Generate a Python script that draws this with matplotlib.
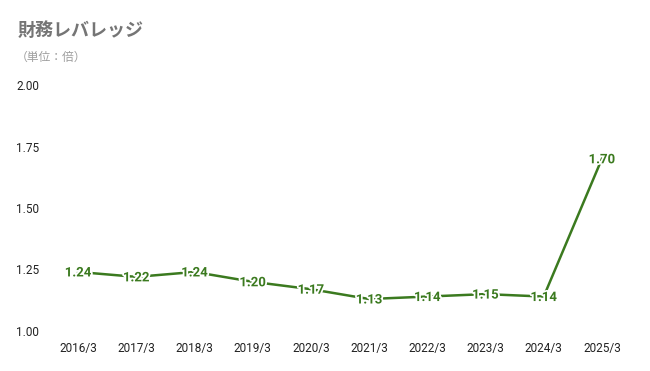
import matplotlib
matplotlib.use("Agg")
import matplotlib.pyplot as plt
import matplotlib.patheffects as pe

plt.rcParams['font.family'] = ['Noto Sans CJK JP', 'DejaVu Sans']

years = ['2016/3', '2017/3', '2018/3', '2019/3', '2020/3',
         '2021/3', '2022/3', '2023/3', '2024/3', '2025/3']
leverage = [1.24, 1.22, 1.24, 1.20, 1.17, 1.13, 1.14, 1.15, 1.14, 1.70]
yticks = [1.00, 1.25, 1.50, 1.75, 2.00]

green = '#3b7a1f'

fig = plt.figure(figsize=(6.5, 3.71), dpi=100)
ax = fig.add_axes([49 / 650, 1 - 331 / 371, 582 / 650, 246 / 371])

x = list(range(len(years)))
ax.plot(x, leverage, color=green, linewidth=1.8, zorder=2)

for xi, v in zip(x, leverage):
    ax.text(xi, v - 0.004, f'{v:.2f}', ha='center', va='center', color=green,
            fontsize=9.5, fontweight='bold', family=['Roboto', 'DejaVu Sans'],
            zorder=3,
            path_effects=[pe.withStroke(linewidth=2.5, foreground='white')])

ax.set_xlim(-0.5, len(years) - 0.5)
ax.set_ylim(1.0, 2.0)
ax.set_xticks(x)
ax.set_xticklabels(years, family=['Roboto', 'DejaVu Sans'])
ax.set_yticks(yticks)
ax.set_yticklabels([f'{t:.2f}' for t in yticks], family=['Roboto', 'DejaVu Sans'])
ax.tick_params(axis='both', length=0, labelsize=8.5, colors='#222222')
ax.tick_params(axis='x', pad=8)
ax.tick_params(axis='y', pad=7)
for s in ax.spines.values():
    s.set_visible(False)

fig.text(18 / 650, 1 - 30 / 371, '財務レバレッジ', fontsize=13, fontweight='bold',
         color='#757575', va='center', ha='left')
fig.text(16 / 650, 1 - 57 / 371, '（単位：倍）', fontsize=8.5,
         color='#9e9e9e', va='center', ha='left')

fig.savefig('out.png', dpi=100)
